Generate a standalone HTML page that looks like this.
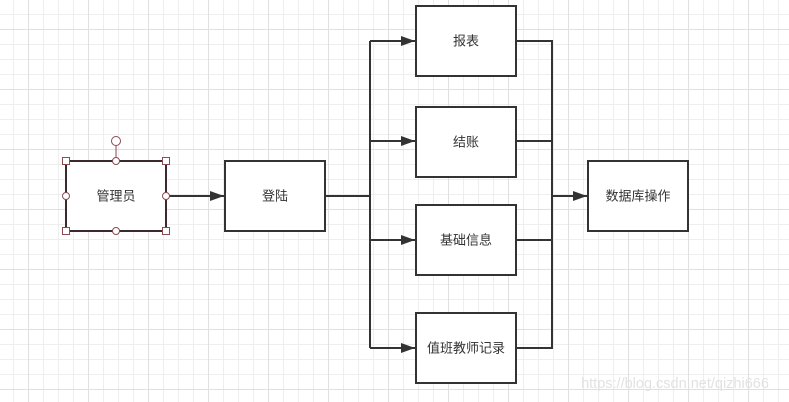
<!DOCTYPE html>
<html><head><meta charset="utf-8"><style>
html,body{margin:0;padding:0;background:#fff;}
svg{display:block;}
text{font-family:"Liberation Sans","Noto Sans CJK SC",sans-serif;font-size:13px;fill:#333;text-anchor:middle;dominant-baseline:central;}
</style></head><body>
<svg width="789" height="402" viewBox="0 0 789 402" xmlns="http://www.w3.org/2000/svg">
<defs>
<pattern id="g" x="13" y="14" width="15" height="15" patternUnits="userSpaceOnUse">
<path d="M0.5 0V15M0 0.5H15" stroke="#eeeeee" stroke-width="1" fill="none"/>
</pattern>
<pattern id="G" x="28" y="29" width="60" height="60" patternUnits="userSpaceOnUse">
<path d="M0.5 0V60M0 0.5H60" stroke="#e0e0e0" stroke-width="1" fill="none"/>
</pattern>
<marker id="a" markerWidth="16" markerHeight="12" refX="14" refY="6" orient="auto" markerUnits="userSpaceOnUse">
<path d="M0 1L14 6L0 11Z" fill="#333"/>
</marker>
</defs>
<rect width="789" height="402" fill="url(#g)"/>
<rect width="789" height="402" fill="url(#G)"/>
<g stroke="#333" stroke-width="2" fill="none">
<line x1="167" y1="196" x2="224" y2="196" marker-end="url(#a)"/>
<polyline points="325,196 370,196"/>
<line x1="370" y1="41" x2="370" y2="348"/>
<line x1="370" y1="41" x2="415" y2="41" marker-end="url(#a)"/>
<line x1="370" y1="141" x2="415" y2="141" marker-end="url(#a)"/>
<line x1="370" y1="240" x2="415" y2="240" marker-end="url(#a)"/>
<line x1="370" y1="348" x2="415" y2="348" marker-end="url(#a)"/>
<polyline points="516,41 552,41 552,348 516,348"/>
<line x1="516" y1="141" x2="552" y2="141"/>
<line x1="516" y1="240" x2="552" y2="240"/>
<line x1="552" y1="196" x2="587" y2="196" marker-end="url(#a)"/>
<rect x="225" y="161" width="100" height="70" fill="#fff"/>
<rect x="416" y="6" width="100" height="70" fill="#fff"/>
<rect x="416" y="107" width="100" height="70" fill="#fff"/>
<rect x="416" y="205" width="100" height="70" fill="#fff"/>
<rect x="416" y="313" width="100" height="70" fill="#fff"/>
<rect x="588" y="161" width="100" height="70" fill="#fff"/>
</g>
<rect x="66" y="161" width="100" height="70" fill="#fff" stroke="#3a2a2c" stroke-width="2"/>
<g stroke="#8b4a52" stroke-width="1" fill="#fff">
<line x1="116" y1="145" x2="116" y2="161"/>
<circle cx="116" cy="141" r="4.5"/>
<rect x="62.5" y="157.5" width="7" height="7"/>
<rect x="162.5" y="157.5" width="7" height="7"/>
<rect x="62.5" y="227.5" width="7" height="7"/>
<rect x="162.5" y="227.5" width="7" height="7"/>
<circle cx="116" cy="161" r="3.5"/>
<circle cx="116" cy="231" r="3.5"/>
<circle cx="66" cy="196" r="3.5"/>
<circle cx="166" cy="196" r="3.5"/>
</g>
<text x="116" y="196">管理员</text>
<text x="275" y="196">登陆</text>
<text x="466" y="41">报表</text>
<text x="466" y="142">结账</text>
<text x="466" y="240">基础信息</text>
<text x="466" y="348">值班教师记录</text>
<text x="638" y="196" fill="#333">数据库操作</text>
<text x="675" y="384" style="font-size:14.5px;fill:#e2e2e2">https://blog.csdn.net/qizhi666</text>
</svg>
</body></html>
